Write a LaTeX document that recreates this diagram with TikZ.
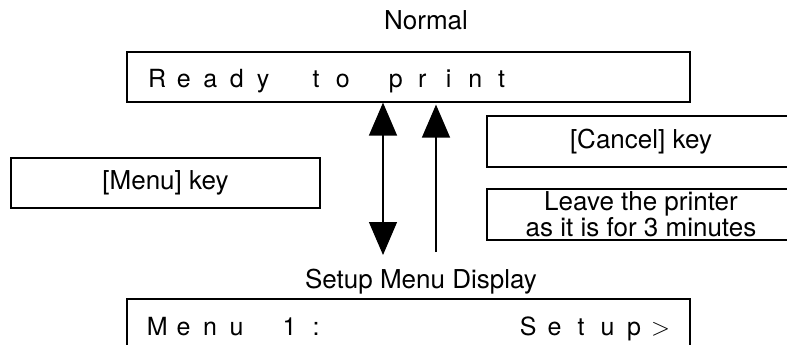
\documentclass[tikz,border=0pt]{standalone}
\usepackage{fontspec}
\setmainfont{TeX Gyre Heros}
\usetikzlibrary{arrows.meta}
% one character cell of the display
\newcommand{\lc}[1]{\makebox[26.5pt]{#1}}
\tikzset{
  panel/.style={draw, line width=1.2pt, inner sep=0pt},
  lbl/.style={font=\fontsize{26}{22}\selectfont, inner sep=0pt, align=center},
  lcd/.style={font=\fontsize{25}{25}\selectfont, inner sep=0pt, anchor=base west},
  >={Triangle[length=33pt,width=28pt]}
}
\begin{document}
\begin{tikzpicture}[x=1pt,y=-1pt]
  \useasboundingbox (0,0) rectangle (787,345);
  \clip (0,0) rectangle (787,345);
  % displays
  \node[lbl, anchor=base] (normal) at (426,30) {Normal};
  \node[panel, minimum width=563pt, minimum height=50pt] (ready) at (408.5,77) {};
  \node[lcd] (readytext) at (143.75,88)
    {\lc{R}\lc{e}\lc{a}\lc{d}\lc{y}\lc{}\lc{t}\lc{o}\lc{}\lc{p}\lc{r}\lc{i}\lc{n}\lc{t}};
  \node[lbl, anchor=base] (setup) at (421,288) {Setup Menu Display};
  \node[panel, minimum width=563pt, minimum height=52pt] (menu1) at (408.5,325) {};
  \node[lcd] (menu1text) at (143.75,335)
    {\lc{M}\lc{e}\lc{n}\lc{u}\lc{}\lc{1}\lc{:}\lc{}\lc{}\lc{}\lc{}\lc{}\lc{}\lc{}\lc{S}\lc{e}\lc{t}\lc{u}\lc{p}\lc{\fontsize{32}{32}\selectfont$>$}};
  % keys
  \node[panel, lbl, minimum width=309pt, minimum height=50pt] (menukey) at (165.5,183) {[Menu] key};
  \node[panel, lbl, minimum width=308pt, minimum height=51pt] (cancelkey) at (641,141.5) {[Cancel] key};
  \node[panel, lbl, minimum width=308pt, minimum height=51pt] (wait) at (641,214.5) {Leave the printer\\as it is for 3 minutes};
  % arrows
  \coordinate (menuend) at (383,255);
  \draw[<->, line width=1.3pt] (menuend |- ready.south) -- (menuend);
  \coordinate (backstart) at (436,252);
  \draw[->, line width=1.3pt, shorten >=2pt] (backstart) -- (backstart |- ready.south);
\end{tikzpicture}
\end{document}
